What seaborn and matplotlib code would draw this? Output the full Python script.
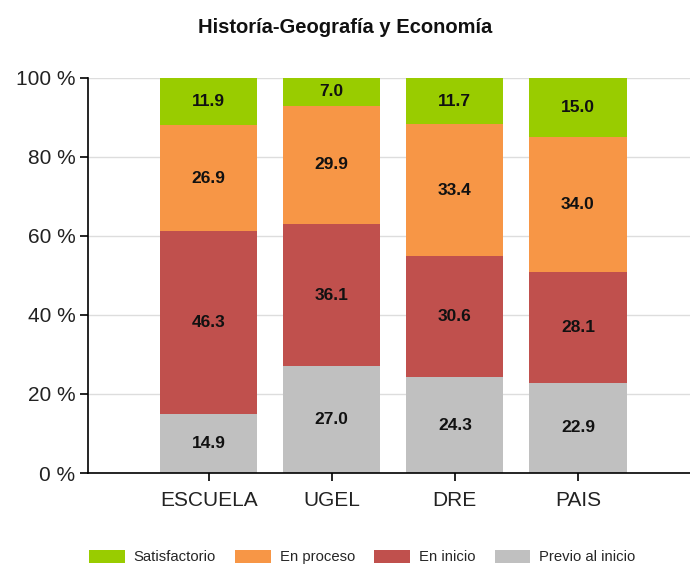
import matplotlib
matplotlib.use("Agg")
import matplotlib.pyplot as plt
import seaborn as sns
import pandas as pd
import numpy as np
from matplotlib.patches import Patch

# Data
regions = ["ESCUELA", "UGEL", "DRE", "PAIS"]
levels = ["Satisfactorio", "En proceso", "En inicio", "Previo al inicio"]
previo = [14.9, 27.0, 24.3, 22.9]
inicio = [46.3, 36.1, 30.6, 28.1]
proceso = [26.9, 29.9, 33.4, 34.0]
satisf = [11.9, 7.0, 11.7, 15.0]
colors = ["#99cc00", "#f79646", "#c0504d", "#c0c0c0"]

sns.set_style("white")
plt.rcParams["font.family"] = ["Liberation Sans", "DejaVu Sans"]

fig = plt.figure(figsize=(6.9, 5.69), dpi=100)
ax = fig.add_axes([0.1275, 0.1687, 0.8725, 0.6943])

# stacked from bottom: previo, inicio, proceso, satisf
stack = [previo, inicio, proceso, satisf]
stack_colors = colors[::-1]
cum = np.cumsum(np.array(stack), axis=0)
df = pd.DataFrame({"region": regions})
for i in range(len(stack) - 1, -1, -1):
    df["top"] = cum[i]
    sns.barplot(data=df, x="region", y="top", color=stack_colors[i],
                width=0.79, saturation=1, linewidth=0, ax=ax, zorder=2)

bottoms = np.vstack([np.zeros(len(regions)), cum[:-1]])
for i, vals in enumerate(stack):
    for j, v in enumerate(vals):
        ax.text(j, bottoms[i][j] + v / 2, f"{v:.1f}", ha="center", va="center",
                fontsize=12.5, fontweight="bold", color="#111111", zorder=3)

ax.set_xlim(-0.98, 3.91)
ax.set_ylim(0, 100)
ax.set_yticks([0, 20, 40, 60, 80, 100])
ax.set_yticklabels([f"{t} %" for t in [0, 20, 40, 60, 80, 100]])
ax.yaxis.grid(True, color="#dddddd", linewidth=1, zorder=0)
ax.set_axisbelow(True)
ax.set_xlabel("")
ax.set_ylabel("")
for s in ["top", "right"]:
    ax.spines[s].set_visible(False)
ax.spines["left"].set_color("black")
ax.spines["bottom"].set_color("black")
ax.spines["left"].set_linewidth(1.2)
ax.spines["bottom"].set_linewidth(1.2)
ax.tick_params(axis="both", which="both", direction="out", length=6, width=1.2,
               color="black", labelsize=15, labelcolor="#222222")
ax.tick_params(axis="x", pad=7, bottom=True)
ax.tick_params(axis="y", left=True, pad=3)

fig.text(0.5, 0.952, "Historía-Geografía y Economía", ha="center", va="center",
         fontsize=14.5, fontweight="bold", color="#111111")

handles = [Patch(facecolor=c, edgecolor="none") for c in colors]
fig.legend(handles, levels, loc="center", bbox_to_anchor=(0.525, 0.021),
           ncol=4, frameon=False, fontsize=10.7, handlelength=2.4,
           handleheight=1.0, columnspacing=1.3, handletextpad=0.6)

fig.savefig("out.png", dpi=100)
